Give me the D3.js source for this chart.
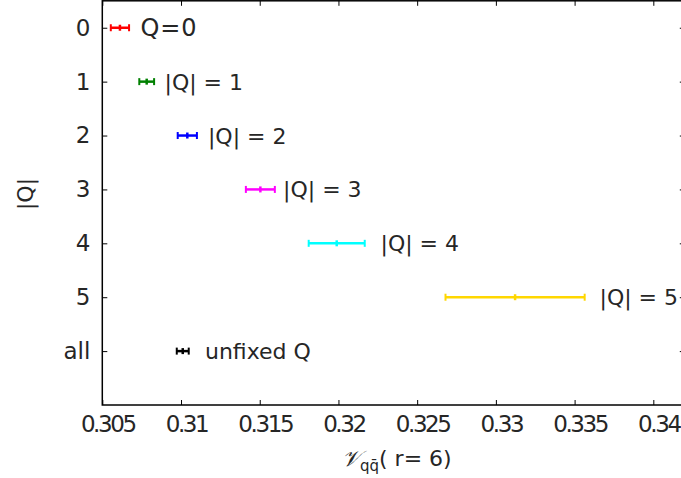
<!DOCTYPE html>
<html>
<head>
<meta charset="utf-8">
<script src="https://cdn.jsdelivr.net/npm/d3@7"></script>
<style>
  html, body { margin: 0; padding: 0; background: #fff; }
  svg { display: block; }
  text { font-family: "DejaVu Sans", sans-serif; fill: #262626; }
</style>
</head>
<body>
<script>
// Charge sectors, one row each
const sectors = ["0", "1", "2", "3", "4", "5", "all"];
const rowLabels = ["Q=0", "|Q| = 1", "|Q| = 2", "|Q| = 3", "|Q| = 4", "|Q| = 5", "unfixed Q"];
// Central values of V_qq̄(r=6) and their errors
const centers = [0.30612, 0.30782, 0.31040, 0.31504, 0.31989, 0.33122, 0.31011];
const errors  = [0.00058, 0.00047, 0.00061, 0.00092, 0.00178, 0.00442, 0.00038];
const colors  = ["#ff0000", "#008000", "#0000ff", "#ff00ff", "#00ffff", "#ffd700", "#000000"];
// Where each row's annotation starts (in V units)
const labelX  = [0.30743, 0.30895, 0.31171, 0.31648, 0.32267, 0.33658, 0.31152];
const xTicks  = [0.305, 0.31, 0.315, 0.32, 0.325, 0.33, 0.335, 0.34];
const xTickText = ["0.305", "0.31", "0.315", "0.32", "0.325", "0.33", "0.335", "0.34"];

(function draw() {
  const W = 681, H = 478;
  const mL = 102.3, mR = 684.8, mT = 0.8, mB = 405;

  const svg = d3.select("body").append("svg").attr("width", W).attr("height", H);

  const x = d3.scaleLinear().domain([0.305, 0.342]).range([mL, mR]);
  const y = d3.scaleLinear().domain([-0.5, 7]).range([mT, mB]);
  const rows = d3.range(sectors.length);

  // Frame
  svg.append("rect")
    .attr("x", mL).attr("y", mT)
    .attr("width", mR - mL).attr("height", mB - mT)
    .attr("fill", "none").attr("stroke", "#000").attr("stroke-width", 1.5);

  // Axes with inward ticks on all four sides
  const tickLen = 5;
  const gx = svg.append("g").attr("transform", `translate(0,${mB})`)
    .call(d3.axisBottom(x).tickValues(xTicks).tickSizeInner(-tickLen).tickSizeOuter(0).tickFormat((d, i) => xTickText[i]));
  gx.select(".domain").remove();
  gx.selectAll("line").attr("stroke", "#000").attr("stroke-width", 1);
  gx.selectAll("text")
    .attr("y", 27).attr("dy", 0).attr("dx", 5)
    .style("font-size", "23px").style("letter-spacing", "-2.4px")
    .attr("fill", "#262626");

  const gxt = svg.append("g").attr("transform", `translate(0,${mT})`)
    .call(d3.axisTop(x).tickValues(xTicks).tickSizeInner(-tickLen).tickSizeOuter(0).tickFormat(""));
  gxt.select(".domain").remove();
  gxt.selectAll("line").attr("stroke", "#000");

  const gy = svg.append("g").attr("transform", `translate(${mL},0)`)
    .call(d3.axisLeft(y).tickValues(rows).tickSizeInner(-tickLen).tickSizeOuter(0).tickFormat(i => sectors[i]));
  gy.select(".domain").remove();
  gy.selectAll("line").attr("stroke", "#000");
  gy.selectAll("text")
    .attr("x", -12).attr("dy", "0.32em")
    .style("font-size", "23px").attr("fill", "#262626");

  const gyr = svg.append("g").attr("transform", `translate(${mR},0)`)
    .call(d3.axisRight(y).tickValues(rows).tickSizeInner(-tickLen).tickSizeOuter(0).tickFormat(""));
  gyr.select(".domain").remove();
  gyr.selectAll("line").attr("stroke", "#000");

  // Error bars
  const bars = svg.append("g").selectAll("g").data(rows).join("g");
  bars.append("line")
    .attr("x1", i => x(centers[i] - errors[i])).attr("x2", i => x(centers[i] + errors[i]))
    .attr("y1", i => y(i)).attr("y2", i => y(i))
    .attr("stroke", i => colors[i]).attr("stroke-width", 2.5);
  [-1, 1].forEach(s => {
    bars.append("line")
      .attr("x1", i => x(centers[i] + s * errors[i])).attr("x2", i => x(centers[i] + s * errors[i]))
      .attr("y1", i => y(i) - 3.5).attr("y2", i => y(i) + 3.5)
      .attr("stroke", i => colors[i]).attr("stroke-width", 2);
  });
  bars.append("line")
    .attr("x1", i => x(centers[i])).attr("x2", i => x(centers[i]))
    .attr("y1", i => y(i) - 3).attr("y2", i => y(i) + 3)
    .attr("stroke", i => colors[i]).attr("stroke-width", 2.5);

  // Row annotations
  bars.append("text")
    .attr("x", i => x(labelX[i])).attr("y", i => y(i) + 8)
    .style("font-size", i => i === 0 ? "24px" : "22px")
    .style("letter-spacing", i => i === 0 ? "0.8px" : null)
    .text(i => rowLabels[i]);

  // Axis titles
  const xt = svg.append("text").attr("x", 342).attr("y", 466).style("font-size", "22px");
  xt.append("tspan").style("font-family", "'DejaVu Serif', serif").style("font-style", "italic").text("\uD835\uDCB1");
  xt.append("tspan").attr("dy", 5).style("font-size", "15px").text("qq\u0304");
  xt.append("tspan").attr("dy", -5).text("( r= 6)");

  svg.append("text")
    .attr("transform", "translate(33,194) rotate(-90)")
    .attr("text-anchor", "middle")
    .style("font-size", "22px")
    .text("|Q|");
})();
</script>
</body>
</html>
